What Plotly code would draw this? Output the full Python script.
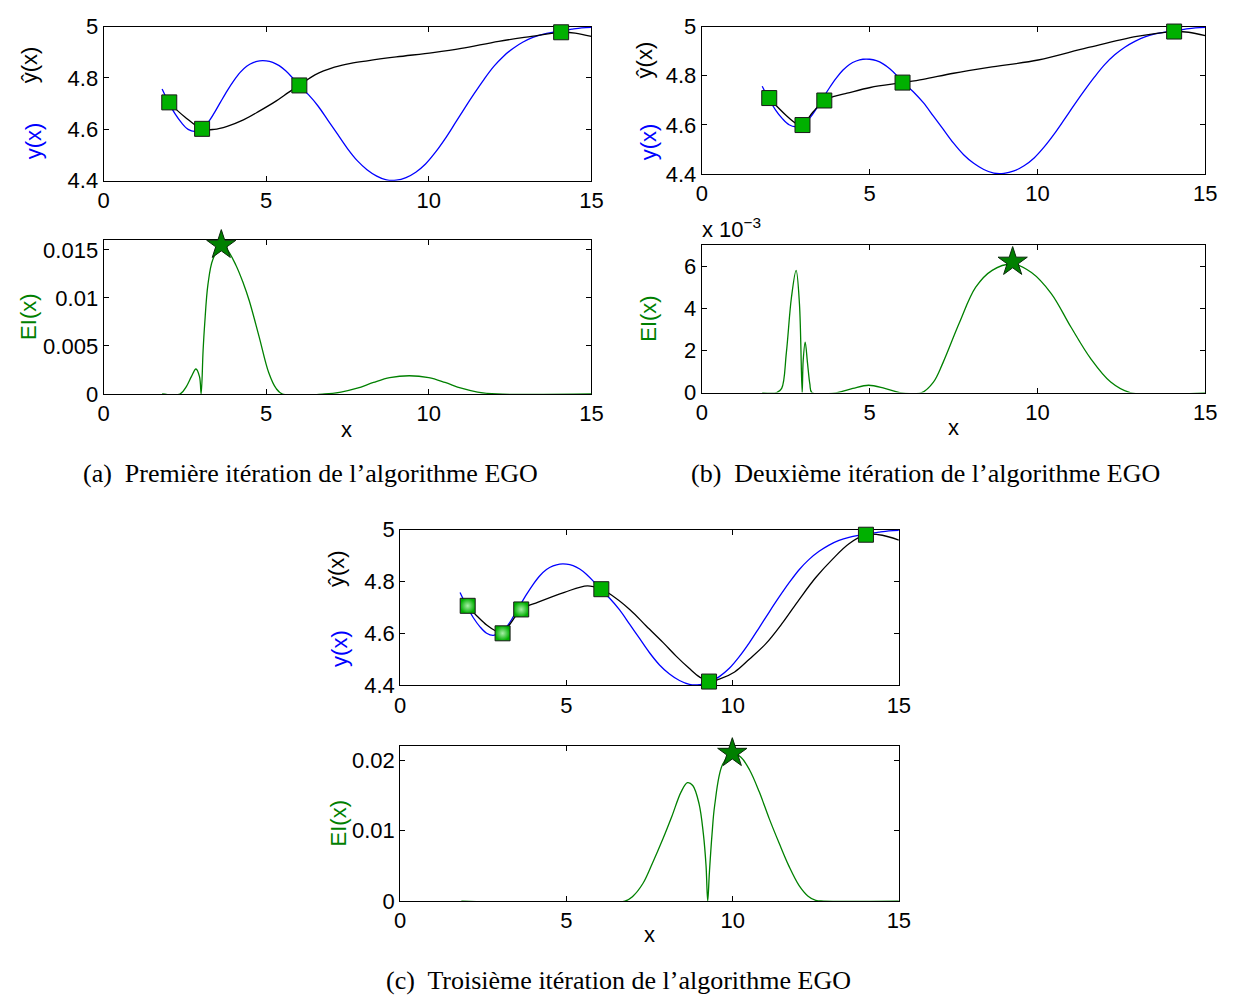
import plotly.graph_objects as go

W, H = 1242, 1008

# ---------------- data ----------------
true_x = [1.8, 2.0, 2.2, 2.4, 2.6, 2.8, 3.0, 3.2, 3.4, 3.6, 3.8, 4.0, 4.2, 4.4, 4.6, 4.8, 5.0,
          5.2, 5.4, 5.6, 5.8, 6.0, 6.3, 6.6, 6.9, 7.2, 7.5, 7.8, 8.1, 8.4, 8.7, 9.0, 9.3, 9.6,
          9.9, 10.2, 10.5, 10.8, 11.1, 11.4, 11.7, 12.0, 12.3, 12.6, 12.9, 13.2, 13.5, 13.8,
          14.1, 14.4, 14.7, 15.0]
true_y = [4.757, 4.705, 4.660, 4.625, 4.600, 4.592, 4.602, 4.625, 4.663, 4.707, 4.750, 4.789,
          4.822, 4.846, 4.860, 4.867, 4.867, 4.861, 4.848, 4.828, 4.802, 4.772, 4.735, 4.690,
          4.635, 4.580, 4.525, 4.478, 4.443, 4.418, 4.403, 4.402, 4.412, 4.433, 4.465, 4.510,
          4.563, 4.622, 4.682, 4.740, 4.795, 4.845, 4.885, 4.916, 4.940, 4.958, 4.970, 4.978,
          4.984, 4.990, 4.995, 4.997]

a_pred_x = [2.0, 2.5, 3.03, 3.4, 3.8, 4.3, 4.8, 5.3, 5.7, 6.02, 6.5, 7.1, 7.6, 8.11, 9.0,
            10.13, 11.0, 12.15, 13.16, 14.07, 14.5, 15.0]
a_pred_y = [4.705, 4.648, 4.601, 4.600, 4.612, 4.637, 4.672, 4.710, 4.745, 4.771, 4.812,
            4.842, 4.857, 4.867, 4.882, 4.899, 4.915, 4.943, 4.962, 4.978, 4.975, 4.962]
a_pts_x = [2.02, 3.03, 6.02, 14.07]
a_pts_y = [4.705, 4.602, 4.771, 4.978]
a_ei_x = [1.8, 2.35, 2.55, 2.7, 2.84, 2.95, 3.0, 3.06, 3.11, 3.21, 3.36, 3.62, 3.8, 4.07,
          4.3, 4.48, 4.78, 5.08, 5.3, 5.5, 6.8, 7.3, 7.8, 8.3, 8.8, 9.4, 10.0, 10.5, 11.0,
          11.5, 12.1, 15.0]
a_ei_y = [0, 0, 0.0008, 0.0018, 0.0026, 0.0018, 0, 0.0045, 0.0073, 0.0114, 0.0140, 0.0154,
          0.0150, 0.0134, 0.0115, 0.0097, 0.0060, 0.0022, 0.0006, 0, 0, 0.0002, 0.0006,
          0.0012, 0.0017, 0.0019, 0.0017, 0.0012, 0.0006, 0.0002, 0, 0]
a_next = ([3.62], [0.0155])

b_pred_x = [2.0, 2.5, 2.85, 3.0, 3.3, 3.65, 4.0, 4.33, 5.02, 6.0, 6.59, 7.5, 8.55, 10.02,
            11.49, 12.96, 14.07, 14.5, 15.0]
b_pred_y = [4.709, 4.640, 4.602, 4.599, 4.650, 4.699, 4.718, 4.729, 4.752, 4.772, 4.785,
            4.810, 4.834, 4.864, 4.914, 4.960, 4.980, 4.977, 4.963]
b_pts_x = [2.01, 3.0, 3.65, 5.98, 14.07]
b_pts_y = [4.709, 4.599, 4.699, 4.772, 4.980]
b_ei_x = [1.8, 2.23, 2.38, 2.52, 2.67, 2.81, 2.91, 2.99, 3.02, 3.08, 3.15, 3.22, 3.28,
          4.03, 4.5, 4.97, 5.45, 5.9, 6.55, 6.9, 7.18, 7.67, 8.16, 8.65, 9.26, 9.82, 10.41,
          11.0, 11.59, 12.18, 12.76, 15.0]
b_ei_y = [0, 0, 0.0002, 0.0019, 0.0045, 0.0058, 0.0042, 0, 0.0015, 0.0024, 0.0014, 0.0004,
          0, 0, 0.0002, 0.00035, 0.0002, 0, 0, 0.0005, 0.0014, 0.0033, 0.0050, 0.0058,
          0.0061, 0.0057, 0.0047, 0.0031, 0.0016, 0.0005, 0, 0]
b_next = ([9.26], [0.0062])

c_pred_x = [2.0, 2.3, 2.6, 2.9, 3.05, 3.3, 3.64, 4.15, 4.94, 5.63, 6.05, 6.23, 6.92, 7.4,
            7.91, 8.3, 8.7, 9.0, 9.29, 9.6, 10.06, 10.5, 11.0, 11.5, 12.0, 12.5, 13.0,
            13.5, 14.01, 14.5, 15.0]
c_pred_y = [4.706, 4.668, 4.632, 4.607, 4.600, 4.635, 4.692, 4.720, 4.758, 4.783, 4.770,
            4.758, 4.690, 4.628, 4.564, 4.512, 4.464, 4.432, 4.413, 4.423, 4.451, 4.500,
            4.560, 4.640, 4.730, 4.815, 4.885, 4.945, 4.980, 4.978, 4.959]
c_pts_x = [2.03, 3.08, 3.64, 6.05, 9.29, 14.01]
c_pts_y = [4.706, 4.600, 4.692, 4.770, 4.414, 4.980]
c_ei_x = [1.84, 6.76, 7.0, 7.3, 7.58, 7.9, 8.17, 8.45, 8.64, 8.8, 8.99, 9.12, 9.2, 9.25,
          9.3, 9.38, 9.46, 9.69, 9.99, 10.25, 10.51, 10.8, 11.1, 11.4, 11.69, 12.0, 12.27,
          12.5, 12.74, 15.0]
c_ei_y = [0, 0, 0.0007, 0.0025, 0.0053, 0.0088, 0.0120, 0.0155, 0.0168, 0.0164, 0.0138,
          0.0095, 0.0050, 0, 0.0040, 0.0095, 0.0136, 0.0193, 0.0210, 0.0204, 0.0186,
          0.0155, 0.0117, 0.0082, 0.0050, 0.0022, 0.0007, 0.0001, 0, 0]
c_next = ([9.99], [0.0210])

x_ticks = [0, 5, 10, 15]
x_tick_text = ["0", "5", "10", "15"]
y_ticks_top = [4.4, 4.6, 4.8, 5.0]
y_tick_text_top = ["4.4", "4.6", "4.8", "5"]
a_ei_ticks = [0, 0.005, 0.01, 0.015]
a_ei_text = ["0", "0.005", "0.01", "0.015"]
b_ei_ticks = [0, 0.002, 0.004, 0.006]
b_ei_text = ["0", "2", "4", "6"]
c_ei_ticks = [0, 0.01, 0.02]
c_ei_text = ["0", "0.01", "0.02"]

captions = ["(a)  Première itération de l’algorithme EGO",
            "(b)  Deuxième itération de l’algorithme EGO",
            "(c)  Troisième itération de l’algorithme EGO"]

# ---------------- styling ----------------
BLUE = "#0000ff"
GREEN = "#008000"
SQ = "#00b000"
SANS = "Liberation Sans, Arial, Helvetica, sans-serif"
SERIF = "Liberation Serif, Times New Roman, serif"
FS = 22


def px_x(p):
    return p / W


def px_y(p):
    return 1 - p / H


# panel boxes in pixels: (left, right, top, bottom)
boxes = {
    "a_top": (99, 594, 15, 173),
    "a_bot": (99, 594, 234, 391.7),
    "b_top": (706, 1217, 15, 166),
    "b_bot": (706, 1217, 239, 390.3),
    "c_top": (400, 906, 530.7, 690.3),
    "c_bot": (400, 906, 752.7, 911.7),
}
order = ["a_top", "a_bot", "b_top", "b_bot", "c_top", "c_bot"]

fig = go.Figure()


def axnames(i):
    return ("x" if i == 0 else f"x{i+1}", "y" if i == 0 else f"y{i+1}")


def add_top(i, px, py, ptsx, ptsy, glossy=0):
    xa, ya = axnames(i)
    fig.add_trace(go.Scatter(x=true_x, y=true_y, mode="lines", line=dict(color=BLUE, width=1.3, shape="spline"),
                             xaxis=xa, yaxis=ya, showlegend=False))
    fig.add_trace(go.Scatter(x=px, y=py, mode="lines", line=dict(color="black", width=1.3, shape="spline"),
                             xaxis=xa, yaxis=ya, showlegend=False))
    marker = dict(symbol="square", size=15, color=SQ, line=dict(color="#1a1a1a", width=1))
    if glossy:
        n = len(ptsx)
        marker["gradient"] = dict(type=["radial"] * glossy + ["none"] * (n - glossy), color="#a8eea8")
    fig.add_trace(go.Scatter(x=ptsx, y=ptsy, mode="markers", marker=marker,
                             xaxis=xa, yaxis=ya, showlegend=False, cliponaxis=False))


def add_bot(i, ex, ey, nxt):
    xa, ya = axnames(i)
    fig.add_trace(go.Scatter(x=ex, y=ey, mode="lines", line=dict(color=GREEN, width=1.3, shape="spline", smoothing=1.0),
                             xaxis=xa, yaxis=ya, showlegend=False))
    fig.add_trace(go.Scatter(x=nxt[0], y=nxt[1], mode="markers",
                             marker=dict(symbol="star", size=22, color=GREEN, line=dict(color="#0a2a0a", width=1)),
                             xaxis=xa, yaxis=ya, showlegend=False, cliponaxis=False))


add_top(0, a_pred_x, a_pred_y, a_pts_x, a_pts_y)
add_bot(1, a_ei_x, a_ei_y, a_next)
add_top(2, b_pred_x, b_pred_y, b_pts_x, b_pts_y)
add_bot(3, b_ei_x, b_ei_y, b_next)
add_top(4, c_pred_x, c_pred_y, c_pts_x, c_pts_y, glossy=3)
add_bot(5, c_ei_x, c_ei_y, c_next)

common = dict(showline=True, linecolor="black", linewidth=1, mirror="ticks", ticks="inside",
              ticklen=5, tickcolor="black", tickwidth=1, showgrid=False, zeroline=False,
              tickfont=dict(family=SANS, size=FS, color="black"), layer="below traces",
              fixedrange=True)

yspec = {
    "a_top": ([4.4, 5.0], y_ticks_top, y_tick_text_top),
    "a_bot": ([0, 0.016], a_ei_ticks, a_ei_text),
    "b_top": ([4.4, 5.0], y_ticks_top, y_tick_text_top),
    "b_bot": ([0, 0.007], b_ei_ticks, b_ei_text),
    "c_top": ([4.4, 5.0], y_ticks_top, y_tick_text_top),
    "c_bot": ([0, 0.022], c_ei_ticks, c_ei_text),
}

layout = {}
for i, key in enumerate(order):
    l, r, t, b = boxes[key]
    xa, ya = axnames(i)
    xk = "xaxis" if i == 0 else f"xaxis{i+1}"
    yk = "yaxis" if i == 0 else f"yaxis{i+1}"
    layout[xk] = dict(common, domain=[px_x(l), px_x(r)], range=[0, 15], tickvals=x_ticks,
                      ticktext=x_tick_text, anchor=ya)
    rng, tv, tt = yspec[key]
    layout[yk] = dict(common, domain=[px_y(b), px_y(t)], range=rng, tickvals=tv, ticktext=tt,
                      anchor=xa)

annotations = []


def ann(text, x, y, color="black", angle=0, size=FS, family=SANS, xanchor="center", yanchor="middle"):
    annotations.append(dict(text=text, x=px_x(x), y=px_y(y), xref="paper", yref="paper",
                            showarrow=False, textangle=angle, xanchor=xanchor, yanchor=yanchor,
                            font=dict(family=family, size=size, color=color)))


# y labels of the top panels
ann("ŷ(x)", 24, 54, angle=-90)
ann("y(x)", 28, 132, color=BLUE, angle=-90)
ann("ŷ(x)", 648, 49, angle=-90)
ann("y(x)", 652, 133, color=BLUE, angle=-90)
ann("ŷ(x)", 336, 571, angle=-90)
ann("y(x)", 339, 653, color=BLUE, angle=-90)
# EI labels
ann("EI(x)", 23, 313, color=GREEN, angle=-90)
ann("EI(x)", 652, 315, color=GREEN, angle=-90)
ann("EI(x)", 337, 832, color=GREEN, angle=-90)
# x labels
ann("x", 346, 428)
ann("x", 961, 426)
ann("x", 653, 946)
# exponent
ann("x 10<sup>−3</sup>", 704, 238, xanchor="left", yanchor="bottom")
# captions
ann(captions[0], 309, 473, family=SERIF, size=26)
ann(captions[1], 933, 473, family=SERIF, size=26)
ann(captions[2], 621, 993, family=SERIF, size=26)

fig.update_layout(width=W, height=H, margin=dict(l=0, r=0, t=0, b=0),
                  paper_bgcolor="white", plot_bgcolor="white", annotations=annotations,
                  showlegend=False, **layout)

fig.write_html("out.html")
